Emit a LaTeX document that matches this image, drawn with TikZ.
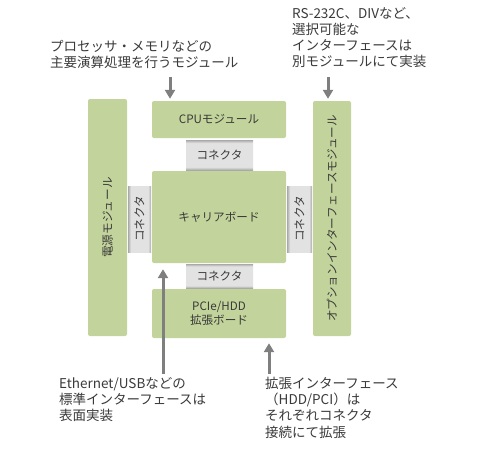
\documentclass[tikz,border=0pt]{standalone}
\usepackage{fontspec}
\setmainfont{Noto Sans CJK JP}
\usetikzlibrary{arrows.meta}
\definecolor{modgreen}{HTML}{C2D49B}
\definecolor{conlight}{HTML}{E2E2E2}
\definecolor{condark}{HTML}{A9A9A9}
\definecolor{arrowgray}{HTML}{7F7F7F}
\definecolor{textgray}{HTML}{3A3A3A}
\pgfdeclareverticalshading{conflat}{100bp}{color(0bp)=(condark); color(25bp)=(condark); color(30bp)=(conlight); color(70bp)=(conlight); color(75bp)=(condark); color(100bp)=(condark)}
\pgfdeclarehorizontalshading{constand}{100bp}{color(0bp)=(condark); color(25bp)=(condark); color(31bp)=(conlight); color(69bp)=(conlight); color(75bp)=(condark); color(100bp)=(condark)}
\begin{document}
\begin{tikzpicture}[x=1pt, y=-1pt,
    module/.style={fill=modgreen, rounded corners=2pt, inner sep=0pt, text=textgray, font=\fontsize{11.6}{14}\selectfont, align=center},
    conbox/.style={inner sep=0pt, text=textgray, font=\fontsize{11.6}{14}\selectfont},
    pointer/.style={draw=arrowgray, line width=3pt, -{Triangle[width=10pt, length=9pt]}},
    note/.style={anchor=north west, inner sep=0pt, text=textgray, align=left, font=\fontsize{13.5}{16.2}\selectfont}]
    \useasboundingbox (0,0) rectangle (480,450);

    \node[module, minimum width=39pt, minimum height=237pt] (pwr) at (107.5, 217.5) {};
    \node[module, rotate=90, text=textgray] at (pwr.center) {電源モジュール};
    \node[module, minimum width=38pt, minimum height=235pt] (opt) at (332, 218.5) {};
    \node[module, rotate=90, text=textgray] at (opt.center) {オプションインターフェースモジュール};

    \node[module, minimum width=134pt, minimum height=37pt] (cpu) at (219, 119.5) {CPUモジュール};
    \node[module, minimum width=134pt, minimum height=92pt] (carrier) at (219, 217) {キャリアボード};
    \node[module, minimum width=134pt, minimum height=49pt] (pcie) at (219, 313.5) {PCIe/HDD\\拡張ボード};

    \node[conbox, shading=conflat, minimum width=67pt, minimum height=30pt] (conT) at (219.5, 155) {コネクタ};
    \node[conbox, shading=conflat, minimum width=67pt, minimum height=24pt] (conB) at (219.5, 276) {コネクタ};
    \node[conbox, shading=constand, minimum width=23pt, minimum height=66pt] (conL) at (139.5, 219) {};
    \node[conbox, rotate=90] at (conL.center) {コネクタ};
    \node[conbox, shading=constand, minimum width=25pt, minimum height=66pt] (conR) at (299.5, 219) {};
    \node[conbox, rotate=90] at (conR.center) {コネクタ};

    \node[note] (noteCpu) at (50, 40) {プロセッサ・メモリなどの\\主要演算処理を行うモジュール};
    \node[note] (noteOpt) at (292, 7) {RS-232C、DIVなど、\\選択可能な\\インターフェースは\\別モジュールにて実装};
    \node[note] (noteEth) at (59, 377) {Ethernet/USBなどの\\標準インターフェースは\\表面実装};
    \node[note] (noteExp) at (265, 377) {拡張インターフェース\\（HDD/PCI）は\\それぞれコネクタ\\接続にて拡張};

    \coordinate (tailCpu) at (170, 77);
    \coordinate (tailOpt) at (328, 77);
    \coordinate (tailEth) at (163, 374);
    \coordinate (tailExp) at (269, 374);

    \draw[pointer] (tailCpu) -- ([yshift=2pt]tailCpu |- cpu.north);
    \draw[pointer] (tailOpt) -- ([yshift=2pt]tailOpt |- opt.north);
    \draw[pointer] (tailEth) -- ([yshift=-6pt]tailEth |- carrier.south);
    \draw[pointer] (tailExp) -- ([yshift=-5pt]tailExp |- pcie.south);
\end{tikzpicture}
\end{document}
